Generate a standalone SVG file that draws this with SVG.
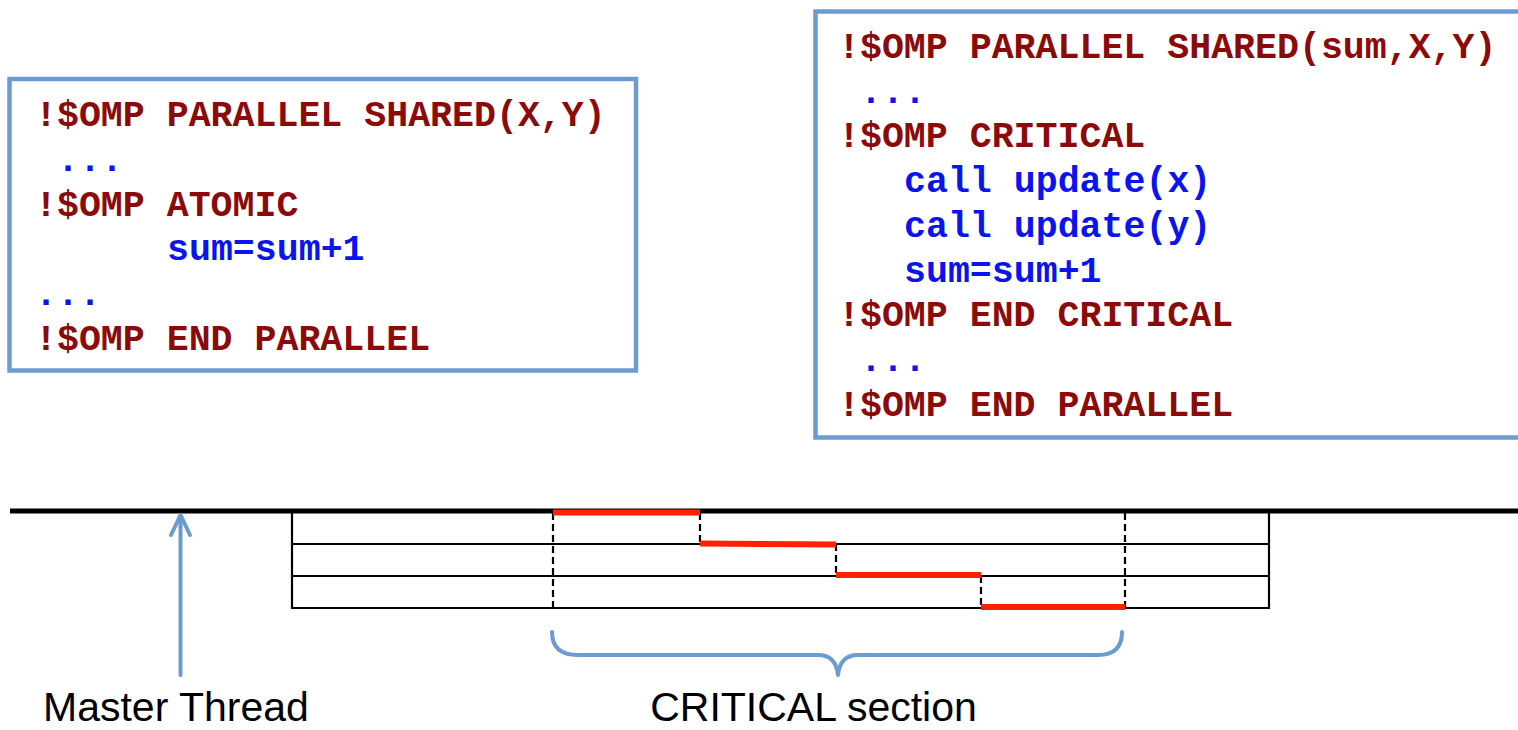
<svg xmlns="http://www.w3.org/2000/svg" width="1518" height="730" viewBox="0 0 1518 730">
  <style>
    .box { fill: #ffffff; stroke: #6b9bd1; stroke-width: 4.5; }
    .code { font-family: "Liberation Mono", "Courier New", monospace; font-weight: bold; font-size: 36.6px; }
    .dir { fill: #8b0a0a; }
    .stmt { fill: #0a14f0; }
    .label { font-family: "Liberation Sans", Arial, sans-serif; font-size: 41px; fill: #000000; }
    .thread { stroke: #000000; stroke-width: 2.2; fill: none; }
    .master { stroke: #000000; stroke-width: 5; fill: none; }
    .wait { stroke: #000000; stroke-width: 2.2; stroke-dasharray: 7 4; fill: none; }
    .crit { stroke: #ff2200; stroke-width: 6; fill: none; }
    .blue { stroke: #6b9bd1; stroke-width: 4; fill: none; stroke-linecap: round; stroke-linejoin: round; }
  </style>

  <!-- ATOMIC code block -->
  <g id="atomic-code">
    <rect class="box" x="9.5" y="79" width="626.5" height="291.5"/>
    <text class="code dir" x="35" y="126">!$OMP PARALLEL SHARED(X,Y)</text>
    <text class="code stmt" x="57" y="171">...</text>
    <text class="code dir" x="35" y="215.5">!$OMP ATOMIC</text>
    <text class="code stmt" x="167" y="260">sum=sum+1</text>
    <text class="code stmt" x="35" y="305">...</text>
    <text class="code dir" x="35" y="350">!$OMP END PARALLEL</text>
  </g>

  <!-- CRITICAL code block -->
  <g id="critical-code">
    <rect class="box" x="815.5" y="11.5" width="730" height="426"/>
    <text class="code dir" x="838" y="58">!$OMP PARALLEL SHARED(sum,X,Y)</text>
    <text class="code stmt" x="860" y="102.7">...</text>
    <text class="code dir" x="838" y="147.4">!$OMP CRITICAL</text>
    <text class="code stmt" x="904" y="192.1">call update(x)</text>
    <text class="code stmt" x="904" y="236.8">call update(y)</text>
    <text class="code stmt" x="904" y="281.5">sum=sum+1</text>
    <text class="code dir" x="838" y="326.2">!$OMP END CRITICAL</text>
    <text class="code stmt" x="860" y="370.9">...</text>
    <text class="code dir" x="838" y="415.6">!$OMP END PARALLEL</text>
  </g>

  <!-- Thread timeline -->
  <g id="timeline">
    <line class="master" x1="10" y1="511" x2="1518" y2="511"/>
    <polyline class="thread" points="292,511 292,608 1269,608 1269,511"/>
    <line class="thread" x1="292" y1="544" x2="1269" y2="544"/>
    <line class="thread" x1="292" y1="576" x2="1269" y2="576"/>
    <line class="wait" x1="553" y1="513" x2="553" y2="608"/>
    <line class="wait" x1="1125" y1="513" x2="1125" y2="608"/>
    <line class="wait" x1="700" y1="513" x2="700" y2="544"/>
    <line class="wait" x1="836" y1="544" x2="836" y2="576"/>
    <line class="wait" x1="981" y1="576" x2="981" y2="608"/>
  </g>

  <!-- Serialised critical-section execution -->
  <g id="critical-runs">
    <line class="crit" x1="553" y1="512.5" x2="700" y2="512.5"/>
    <line class="crit" x1="700" y1="543.5" x2="836" y2="544.5"/>
    <line class="crit" x1="836" y1="575" x2="981" y2="575"/>
    <line class="crit" x1="981" y1="607" x2="1125" y2="607"/>
  </g>

  <!-- Annotations -->
  <g id="connectors">
    <line class="blue" x1="180.5" y1="675" x2="180.5" y2="516"/>
    <polyline class="blue" points="171,535 180.5,515 190,535"/>
    <path class="blue" d="M552,632 Q552,655 578,655 L818,655 Q836,655 838,675 Q840,655 858,655 L1098,655 Q1122,655 1122,632"/>
  </g>

  <g id="master-label">
    <text class="label" x="43" y="721">Master Thread</text>
  </g>
  <g id="critical-label">
    <text class="label" x="813.5" y="721" text-anchor="middle">CRITICAL section</text>
  </g>
</svg>
